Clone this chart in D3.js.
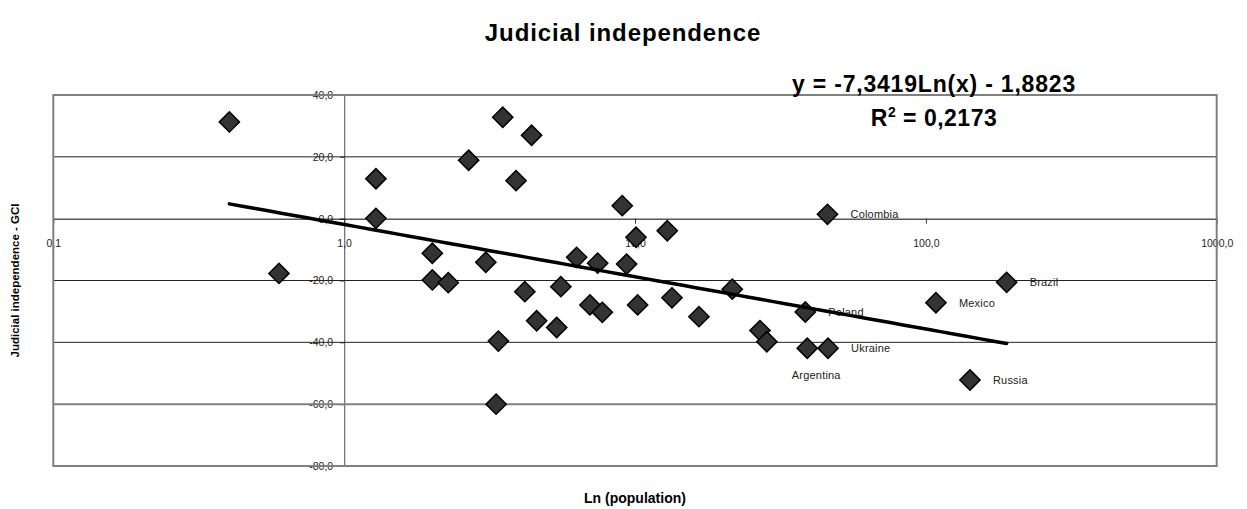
<!DOCTYPE html>
<html>
<head>
<meta charset="utf-8">
<script src="https://cdn.jsdelivr.net/npm/d3@7/dist/d3.min.js"></script>
<style>
  body { margin: 0; background: #fff; }
  svg { font-family: "Liberation Sans", Arial, sans-serif; }
</style>
</head>
<body>
<div class="chart"></div>
<script>
// population (millions) and judicial independence score
var population = [0.403, 0.597, 1.286, 1.286, 2.01, 2.01, 2.28, 2.68, 3.07, 3.51,
	4.41, 3.90, 3.39, 3.33, 4.18, 4.59, 5.38, 5.56, 6.30, 7.00,
	7.44, 7.72, 9.04, 9.36, 10.08, 10.21, 12.91, 13.40, 16.59, 21.6,
	26.9, 28.4, 38.5, 39.1, 45.9, 46.1, 108.3, 141.8, 189.6];
var judicial = [31.3, -17.7, 12.9, 0.1, -11.2, -19.8, -20.7, 18.9, -14.1, 32.8,
	27.0, 12.3, -39.6, -60.0, -23.6, -33.0, -35.2, -22.0, -12.5, -27.9,
	-14.4, -30.3, 4.2, -14.7, -6.0, -27.9, -3.9, -25.6, -31.7, -22.8,
	-36.2, -39.8, -30.2, -41.9, 1.4, -41.9, -27.2, -52.2, -20.6];
var country = ["", "", "", "", "", "", "", "", "", "",
	"", "", "", "", "", "", "", "", "", "",
	"", "", "", "", "", "", "", "", "", "",
	"", "", "Poland", "Argentina", "Colombia", "Ukraine", "Mexico", "Russia", "Brazil"];

var xTicks = [0.1, 1, 10, 100, 1000];
var yTicks = [-80, -60, -40, -20, 0, 20, 40];

// trendline shown on the chart: y = a*ln(x) + b
var trendA = -7.3419;
var trendB = -1.8823;

var w = 1247;
var h = 509;
var plotL = 53.3, plotR = 1216.7, plotT = 95, plotB = 466;

var svg = d3.select('.chart')
	.append('svg')
	.attr('width', w)
	.attr('height', h);

var x = d3.scaleLog().domain([0.1, 1000]).range([plotL, plotR]);
var y = d3.scaleLinear().domain([-80, 40]).range([plotB, plotT]);

var loc = d3.formatLocale({decimal: ",", thousands: ".", grouping: [3], currency: ["", ""], minus: "-"});
var fmt = loc.format(".1f");

// title
svg.append('text')
	.attr('x', 623)
	.attr('y', 41)
	.attr('text-anchor', 'middle')
	.attr('font-size', '24px')
	.attr('font-weight', 'bold')
	.attr('letter-spacing', '0.9px')
	.text('Judicial independence');

// y axis sits at x = 1
var yAxis = svg.append('g')
	.attr('transform', 'translate(' + x(1) + ',0)')
	.call(d3.axisLeft(y).tickValues(yTicks).tickFormat(fmt).tickSize(4).tickSizeOuter(0).tickPadding(7));
yAxis.select('.domain').attr('stroke', '#777').attr('stroke-width', 1.3);
yAxis.selectAll('.tick line').attr('stroke', '#333');
yAxis.selectAll('text').attr('font-size', '10.5px').attr('fill', '#222').attr('font-family', null);

// x axis sits at y = 0
var xAxis = svg.append('g')
	.attr('transform', 'translate(0,' + y(0) + ')')
	.call(d3.axisBottom(x).tickValues(xTicks).tickFormat(fmt).tickSize(5).tickSizeOuter(0).tickPadding(16));
xAxis.select('.domain').attr('stroke', '#000');
xAxis.selectAll('.tick line').attr('stroke', '#333');
xAxis.selectAll('text').attr('font-size', '10.5px').attr('fill', '#222').attr('font-family', null);

// gridlines go over the tick labels, like the original
svg.append('g')
	.selectAll('line')
	.data(yTicks.filter(function(d){ return d !== 0 && d !== 40 && d !== -80; }))
	.enter()
	.append('line')
	.attr('x1', plotL)
	.attr('x2', plotR)
	.attr('y1', function(d){ return y(d); })
	.attr('y2', function(d){ return y(d); })
	.attr('stroke', function(d){ return d === -60 ? '#808080' : '#222'; })
	.attr('stroke-width', function(d){ return d === -60 ? 2 : 1; });

svg.append('rect')
	.attr('x', plotL)
	.attr('y', plotT)
	.attr('width', plotR - plotL)
	.attr('height', plotB - plotT)
	.attr('fill', 'none')
	.attr('stroke', '#808080')
	.attr('stroke-width', 2);

// axis titles
svg.append('text')
	.attr('transform', 'translate(19,' + ((plotT + plotB) / 2) + ') rotate(-90)')
	.attr('text-anchor', 'middle')
	.attr('font-size', '11.5px')
	.attr('font-weight', 'bold')
	.text('Judicial independence - GCI');

svg.append('text')
	.attr('x', (plotL + plotR) / 2)
	.attr('y', 503)
	.attr('text-anchor', 'middle')
	.attr('font-size', '14px')
	.attr('font-weight', 'bold')
	.text('Ln (population)');

// regression text
svg.append('text')
	.attr('x', 934)
	.attr('y', 92)
	.attr('text-anchor', 'middle')
	.attr('font-size', '23px')
	.attr('font-weight', 'bold')
	.attr('letter-spacing', '0.8px')
	.text('y = -7,3419Ln(x) - 1,8823');

var r2 = svg.append('text')
	.attr('x', 934)
	.attr('y', 126)
	.attr('text-anchor', 'middle')
	.attr('font-size', '23px')
	.attr('font-weight', 'bold')
	.attr('letter-spacing', '0.5px');
r2.append('tspan').text('R');
r2.append('tspan').attr('font-size', '14px').attr('dy', -9).text('2');
r2.append('tspan').attr('dy', 9).text(' = 0,2173');

var points = population.map(function(d, i){
	return {x: d, y: judicial[i], name: country[i]};
});

// country labels (Argentina sits under its marker)
svg.append('g')
	.selectAll('text')
	.data(points.filter(function(d){ return d.name !== ''; }))
	.enter()
	.append('text')
	.attr('x', function(d){ return d.name === 'Argentina' ? x(d.x) + 9 : x(d.x) + 23; })
	.attr('y', function(d){ return d.name === 'Argentina' ? y(d.y) + 27 : y(d.y); })
	.attr('dy', '0.35em')
	.attr('text-anchor', function(d){ return d.name === 'Argentina' ? 'middle' : 'start'; })
	.attr('font-size', '11px')
	.attr('letter-spacing', '0.2px')
	.attr('fill', '#222')
	.text(function(d){ return d.name; });

// diamonds
var diamond = d3.symbol().type(d3.symbolSquare).size(205);
svg.append('g')
	.selectAll('path')
	.data(points)
	.enter()
	.append('path')
	.attr('d', diamond)
	.attr('transform', function(d){ return 'translate(' + x(d.x) + ',' + y(d.y) + ') rotate(45)'; })
	.attr('fill', '#333')
	.attr('stroke', '#000')
	.attr('stroke-width', 1.5);

// trendline over the data range
var ext = d3.extent(population);
var trend = d3.range(0, 61).map(function(i){
	var v = Math.exp(Math.log(ext[0]) + (Math.log(ext[1]) - Math.log(ext[0])) * i / 60);
	return [v, trendA * Math.log(v) + trendB];
});
svg.append('path')
	.datum(trend)
	.attr('d', d3.line()
		.x(function(d){ return x(d[0]); })
		.y(function(d){ return y(d[1]); }))
	.attr('fill', 'none')
	.attr('stroke', '#000')
	.attr('stroke-width', 3.5)
	.attr('stroke-linecap', 'round');
</script>
</body>
</html>
